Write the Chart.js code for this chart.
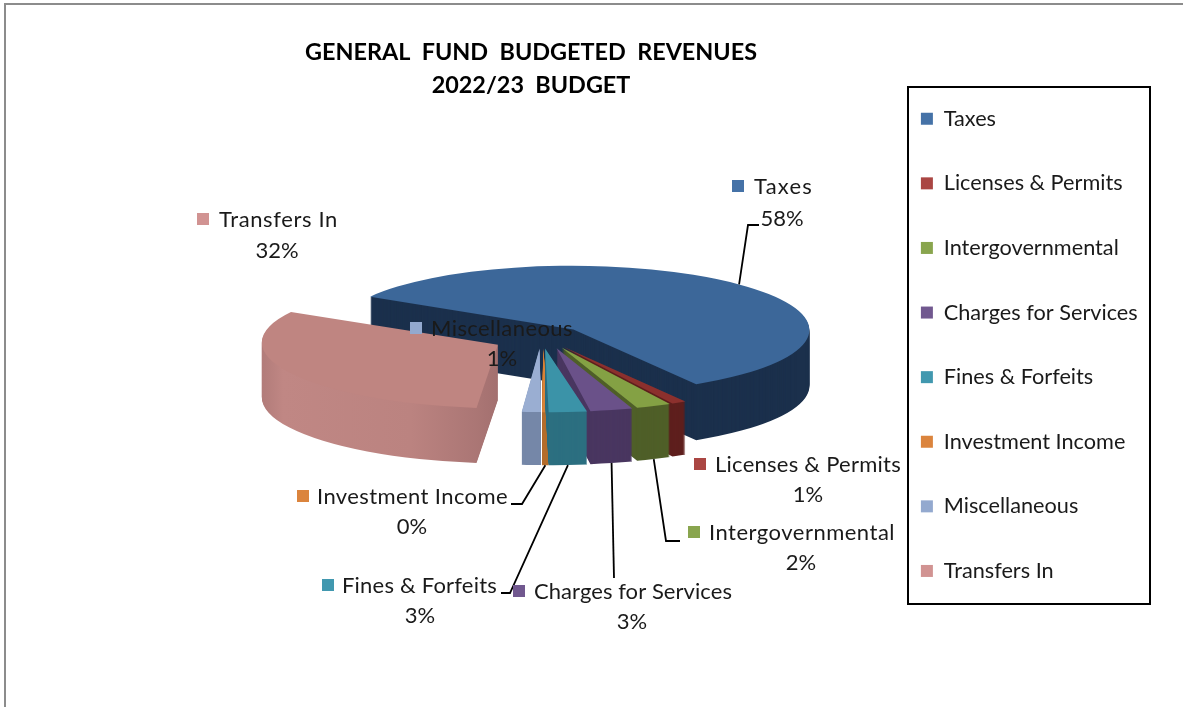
<!DOCTYPE html>
<html>
<head>
<meta charset="utf-8">
<title>General Fund Budgeted Revenues</title>
<script src="https://cdn.jsdelivr.net/npm/chart.js@4"></script>
<style>
    html, body { margin: 0; background: #fff; }
    canvas { display: block; }
</style>
</head>
<body>
<canvas id="pieChart" width="1183" height="707"></canvas>
<script>
const titleLines = ['GENERAL  FUND  BUDGETED  REVENUES', '2022/23  BUDGET'];
const categories = ['Taxes', 'Licenses & Permits', 'Intergovernmental', 'Charges for Services',
    'Fines & Forfeits', 'Investment Income', 'Miscellaneous', 'Transfers In'];
const shares = [57.8, 1.0, 2.4, 2.9, 2.6, 0.45, 1.3, 31.55];

// legend swatch, lit top face, side wall
const swatchColors = ['#4572a7', '#aa4643', '#89a54e', '#71588f', '#4198af', '#db843d', '#93a9cf', '#d19392'];
const topColors = ['#3c6799', '#8c302d', '#84a144', '#6a5189', '#3b93a8', '#d98338', '#9aaed2', '#bf8581'];
const wallColors = ['#1b304c', '#5e1f1d', '#4f5f28', '#493660', '#2c6f80', '#b46c2b', '#7587a8', '#b27c7a'];

const FONT = 'Lato, "Noto Sans", sans-serif';
const TEXT = '#1a1a1a';

// fake 3D: the flat pie gets squashed and stacked
const pie = { x: 538, y: 338, radius: 236, squash: 0.27, explode: 50 };
const drawOrder = [0, 7, 6, 1, 2, 5, 3, 4];

// the original has perspective, canvas transforms don't. each slice gets a small correction:
// dx/dy move the tip, lean pushes the rim sideways at the front, depth is the wall height
const sliceFix = [
    { dx: 0, dy: 1, lean: 2, depth: 56 },
    { dx: 1, dy: -3, lean: 1, depth: 53 },
    { dx: 4, dy: -3, lean: 0, depth: 53 },
    { dx: 7, dy: -3, lean: 0, depth: 53 },
    { dx: 4, dy: -3, lean: 9, depth: 53 },
    { dx: 7, dy: -3, lean: 11, depth: 53 },
    { dx: 6, dy: -3, lean: 14, depth: 53 },
    { dx: 5, dy: 1, lean: 10, depth: 55 },
];
const LEAN_SPAN = 70;

// label placement: swatch left, first text line, percent line, optional leader
const labelSpots = [
    { sx: 732, y: 186, tx: 754, w: 59, px: 782, py: 218, line: [[748, 225], [759, 225]], onWall: false },
    { sx: 694, y: 464, tx: 715, w: 186, px: 808, py: 494 },
    { sx: 688, y: 532, tx: 709, w: 186, px: 801, py: 562, line: [[666, 541], [680, 541]], onWall: true },
    { sx: 513, y: 591, tx: 534, w: 198, px: 632, py: 621, line: [[614, 578]], onWall: true },
    { sx: 322, y: 585, tx: 342, w: 155, px: 420, py: 615, line: [[510, 593], [501, 593]], onWall: true },
    { sx: 297, y: 496, tx: 317, w: 191, px: 412, py: 526, line: [[522, 504], [511, 504]], onWall: true },
    { sx: 410, y: 328, tx: 431, w: 142, px: 502, py: 358 },
    { sx: 197, y: 219, tx: 219, w: 119, px: 277, py: 250 },
];

function midAngle(arc) {
    return (arc.startAngle + arc.endAngle) / 2;
}

function drawSlice(ctx, arc, fix, fill, drop) {
    const mid = midAngle(arc);
    const keep = arc.options.backgroundColor;
    ctx.save();
    ctx.translate(
        pie.x + fix.dx + Math.cos(mid) * pie.explode,
        pie.y + fix.dy + drop + Math.sin(mid) * pie.explode * pie.squash,
    );
    ctx.transform(1, 0, fix.lean / LEAN_SPAN, 1, 0, 0);
    ctx.scale(1, pie.squash);
    ctx.translate(-arc.x, -arc.y);
    arc.options.backgroundColor = fill;
    arc.draw(ctx);
    arc.options.backgroundColor = keep;
    ctx.restore();
}

const pie3d = {
    id: 'pie3d',
    beforeDatasetDraw(chart) {
        const ctx = chart.ctx;
        const arcs = chart.getDatasetMeta(0).data;
        drawOrder.forEach((i) => {
            const arc = arcs[i];
            const fix = sliceFix[i];
            let wall = wallColors[i];
            if (categories[i] === 'Transfers In') {
                wall = ctx.createLinearGradient(arc.x - pie.radius, 0, arc.x + 20, 0);
                wall.addColorStop(0, '#b27c7a');
                wall.addColorStop(0.07, '#c08784');
                wall.addColorStop(0.55, '#bb8380');
                wall.addColorStop(1, '#9e6c6c');
            }
            for (let d = fix.depth; d > 0; d--) {
                drawSlice(ctx, arc, fix, wall, d);
            }
            drawSlice(ctx, arc, fix, topColors[i], 0);
        });
        return false;
    },
};

function rimPoint(arc, fix, onWall) {
    const mid = midAngle(arc);
    const rimY = Math.sin(mid) * pie.radius * pie.squash;
    return [
        pie.x + fix.dx + Math.cos(mid) * (pie.radius + pie.explode) + rimY * fix.lean / LEAN_SPAN,
        pie.y + fix.dy + Math.sin(mid) * pie.explode * pie.squash + rimY + (onWall ? fix.depth : 0),
    ];
}

const decorations = {
    id: 'decorations',
    afterLayout(chart) {
        // same spots as the original sheet
        chart.titleBlock.left = 0;
        chart.titleBlock.right = 1062;
        chart.titleBlock.top = 26;
        chart.legend.left = 878;
        chart.legend.top = 65;
    },
    beforeDraw(chart) {
        const ctx = chart.ctx;
        ctx.fillStyle = '#fff';
        ctx.fillRect(0, 0, chart.width, chart.height);
        ctx.strokeStyle = '#8c8c8c';
        ctx.lineWidth = 2;
        ctx.beginPath();
        ctx.moveTo(5, 707);
        ctx.lineTo(5, 4);
        ctx.lineTo(1183, 4);
        ctx.stroke();
    },
    afterDraw(chart) {
        const ctx = chart.ctx;
        const arcs = chart.getDatasetMeta(0).data;
        const total = shares.reduce((a, b) => a + b, 0);

        // legend frame
        ctx.strokeStyle = '#000';
        ctx.lineWidth = 2;
        ctx.strokeRect(908, 87, 242, 517);

        // leaders
        ctx.lineWidth = 1.8;
        labelSpots.forEach((spot, i) => {
            if (!spot.line) return;
            const start = rimPoint(arcs[i], sliceFix[i], spot.onWall);
            ctx.beginPath();
            ctx.moveTo(start[0], start[1]);
            spot.line.forEach((p) => ctx.lineTo(p[0], p[1]));
            ctx.stroke();
        });

        // data labels
        ctx.font = '22px ' + FONT;
        ctx.textBaseline = 'middle';
        labelSpots.forEach((spot, i) => {
            ctx.fillStyle = swatchColors[i];
            ctx.fillRect(spot.sx, spot.y - 6, 12, 12);
            ctx.fillStyle = TEXT;
            ctx.textAlign = 'left';
            ctx.letterSpacing = '0px';
            const natural = ctx.measureText(categories[i]).width;
            ctx.letterSpacing = ((spot.w - natural) / categories[i].length) + 'px';
            ctx.fillText(categories[i], spot.tx, spot.y + 1);
            ctx.letterSpacing = '0px';
            ctx.textAlign = 'center';
            ctx.fillText(Math.round(shares[i] / total * 100) + '%', spot.px, spot.py + 1);
        });
    },
};

new Chart(document.getElementById('pieChart'), {
    type: 'pie',
    data: {
        labels: categories,
        datasets: [{
            data: shares,
            backgroundColor: swatchColors,
            borderWidth: 0,
        }],
    },
    options: {
        responsive: false,
        animation: false,
        rotation: 301,
        radius: pie.radius,
        plugins: {
            tooltip: { enabled: false },
            title: {
                display: true,
                text: titleLines,
                color: '#000',
                font: { family: FONT, size: 23.4, weight: 'bold', lineHeight: 1.41 },
            },
            legend: {
                position: 'right',
                align: 'start',
                labels: {
                    boxWidth: 12,
                    boxHeight: 12,
                    padding: 42.9,
                    color: TEXT,
                    font: { family: FONT, size: 21.7 },
                },
            },
        },
    },
    plugins: [decorations, pie3d],
});
</script>
</body>
</html>
